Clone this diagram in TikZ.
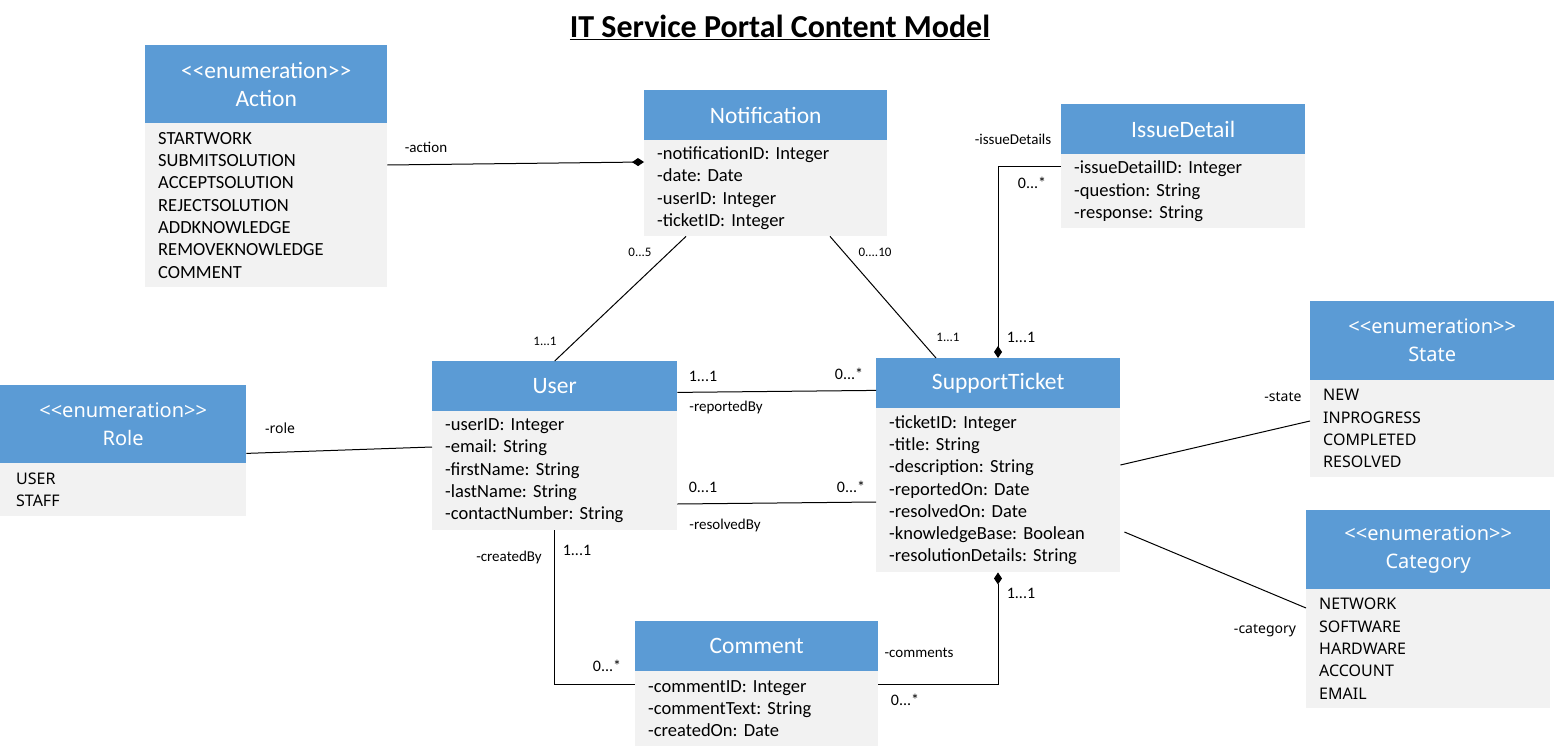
\documentclass[tikz,border=0pt]{standalone}
\usepackage{fontspec}
\setmainfont{Carlito}
\newfontfamily\segoe{Noto Sans}
\usepackage{xcolor}
\usetikzlibrary{arrows.meta,positioning,calc}
\definecolor{hdblue}{HTML}{5B9BD5}
\definecolor{bdgray}{HTML}{F2F2F2}
\newcommand{\enumtag}{<\kern0pt<enumeration>\kern0pt>}
\frenchspacing

\begin{document}
\begin{tikzpicture}[x = 1pt, y = -1pt,
  head/.style 2 args = {fill = hdblue, text = white, anchor = north west, inner sep = 0, align = center,
    minimum width = #1, minimum height = #2, font = \fontsize{23.5}{28}\selectfont},
  body/.style 2 args = {fill = bdgray, anchor = north west, inner xsep = 13, inner ysep = 0, align = left,
    text width = #1, minimum height = #2, font = \fontsize{18.5}{22.3}\selectfont},
  seghead/.style = {font = \segoe\fontsize{20}{28}\selectfont},
  segbody/.style = {font = \segoe\fontsize{16}{22.3}\selectfont},
  lbl/.style = {inner sep = 0, font = \fontsize{15}{15}\selectfont},
  mult/.style = {inner sep = 0, font = \fontsize{16}{16}\selectfont},
  small/.style = {inner sep = 0, font = \fontsize{13}{13}\selectfont},
  seglbl/.style = {inner sep = 0, font = \segoe\fontsize{14}{14}\selectfont},
  link/.style = {line width = 1}]
\useasboundingbox (0,0) rectangle (1556,752);
\node[font = \bfseries\fontsize{32}{32}\selectfont] (title) at (780,27) {\underline{IT Service Portal Content Model}};

% classes
\node[head = {242}{78}] (acth) at (145,45) {\enumtag\\Action};
\node[body = {216}{164}] (act) at (145,123) {STARTWORK\\SUBMITSOLUTION\\ACCEPTSOLUTION\\REJECTSOLUTION\\ADDKNOWLEDGE\\REMOVEKNOWLEDGE\\COMMENT};
\node[head = {243}{50}] (noth) at (644,90) {Notification};
\node[body = {217}{96}] (not) at (644,140) {-notificationID: Integer\\-date: Date\\-userID: Integer\\-ticketID: Integer};
\node[head = {244}{50}] (issh) at (1061,104) {IssueDetail};
\node[body = {218}{74}] (iss) at (1061,154) {-issueDetailID: Integer\\-question: String\\-response: String};
\node[head = {244}{79}, seghead] (stah) at (1310,301) {\enumtag\\State};
\node[body = {218}{97}, segbody] (sta) at (1310,380) {NEW\\INPROGRESS\\COMPLETED\\RESOLVED};
\node[head = {244}{79}, seghead] (cath) at (1306,510) {\enumtag\\Category};
\node[body = {218}{119}, segbody] (cat) at (1306,589) {NETWORK\\SOFTWARE\\HARDWARE\\ACCOUNT\\EMAIL};
\node[head = {246}{78}, seghead] (roleh) at (0,385) {\enumtag\\Role};
\node[body = {214}{53}, segbody, inner xsep = 16] (role) at (0,463) {USER\\STAFF};
\node[head = {245}{50}] (userh) at (432,361) {User};
\node[body = {219}{119}] (user) at (432,411) {-userID: Integer\\-email: String\\-firstName: String\\-lastName: String\\-contactNumber: String};
\node[head = {244}{50}] (tkth) at (876,358) {SupportTicket};
\node[body = {218}{164}] (tkt) at (876,408) {-ticketID: Integer\\-title: String\\-description: String\\-reportedOn: Date\\-resolvedOn: Date\\-knowledgeBase: Boolean\\-resolutionDetails: String};
\node[head = {243}{50}] (comh) at (635,621) {Comment};
\node[body = {217}{75}] (com) at (635,671) {-commentID: Integer\\-commentText: String\\-createdOn: Date};

% associations
\draw[link, -{Diamond[length = 12pt, width = 8pt]}] ($(act.north east)+(0,42)$) -- ($(not.north west)+(0,22)$);
\draw[link] ($(not.south west)+(42,0)$) -- (userh.north);
\draw[link] ($(not.south west)+(186,0)$) -- ($(tkth.north west)+(60,0)$);
\draw[link, -{Diamond[length = 12pt, width = 8pt]}] ($(iss.north west)+(0,12)$) -| ($(tkth.north west)+(122,0)$);
\draw[link] ($(userh.south east)+(0,-19)$) -- ($(tkth.south west)+(0,-18)$);
\draw[link] ($(user.north east)+(0,93)$) -- ($(tkt.north west)+(0,94)$);
\draw[link] (user.south) |- ($(com.north west)+(0,13)$);
\draw[link, -{Diamond[length = 12pt, width = 8pt]}] ($(com.north east)+(0,13)$) -| ($(tkt.south west)+(122,0)$);
\draw[link] ($(roleh.south east)+(0,-10)$) -- ($(user.north west)+(0,36)$);
\draw[link] ($(tkt.north east)+(0,57)$) -- ($(sta.north west)+(0,41)$);
\draw[link] ($(tkt.north east)+(4,124)$) -- ($(cat.north west)+(0,19)$);

% role names and multiplicities
\node[lbl] (lact) at (426,147) {-action};
\node[small] (m1) at (640,252) {0...5};
\node[small] (m2) at (545,341) {1...1};
\node[small] (m3) at (875,252) {0....10};
\node[small] (m4) at (948,337) {1...1};
\node[lbl] (liss) at (1013,139) {-issueDetails};
\node[mult] (m5) at (1032,183) {0...*};
\node[mult] (m6) at (1021,337) {1...1};
\node[mult] (m7) at (703,376) {1...1};
\node[mult] (m8) at (849,374) {0...*};
\node[lbl] (lrep) at (726,407) {-reportedBy};
\node[mult] (m9) at (703,487) {0...1};
\node[mult] (m10) at (851,487) {0...*};
\node[lbl] (lres) at (725,525) {-resolvedBy};
\node[lbl] (lcre) at (509,557) {-createdBy};
\node[mult] (m11) at (577,550) {1...1};
\node[mult] (m12) at (607,666) {0...*};
\node[lbl] (lcom) at (919,653) {-comments};
\node[mult] (m13) at (905,700) {0...*};
\node[mult] (m14) at (1021,593) {1...1};
\node[seglbl] (lrole) at (280,428) {-role};
\node[seglbl] (lsta) at (1283,397) {-state};
\node[seglbl] (lcat) at (1265,631) {-category};
\end{tikzpicture}
\end{document}
